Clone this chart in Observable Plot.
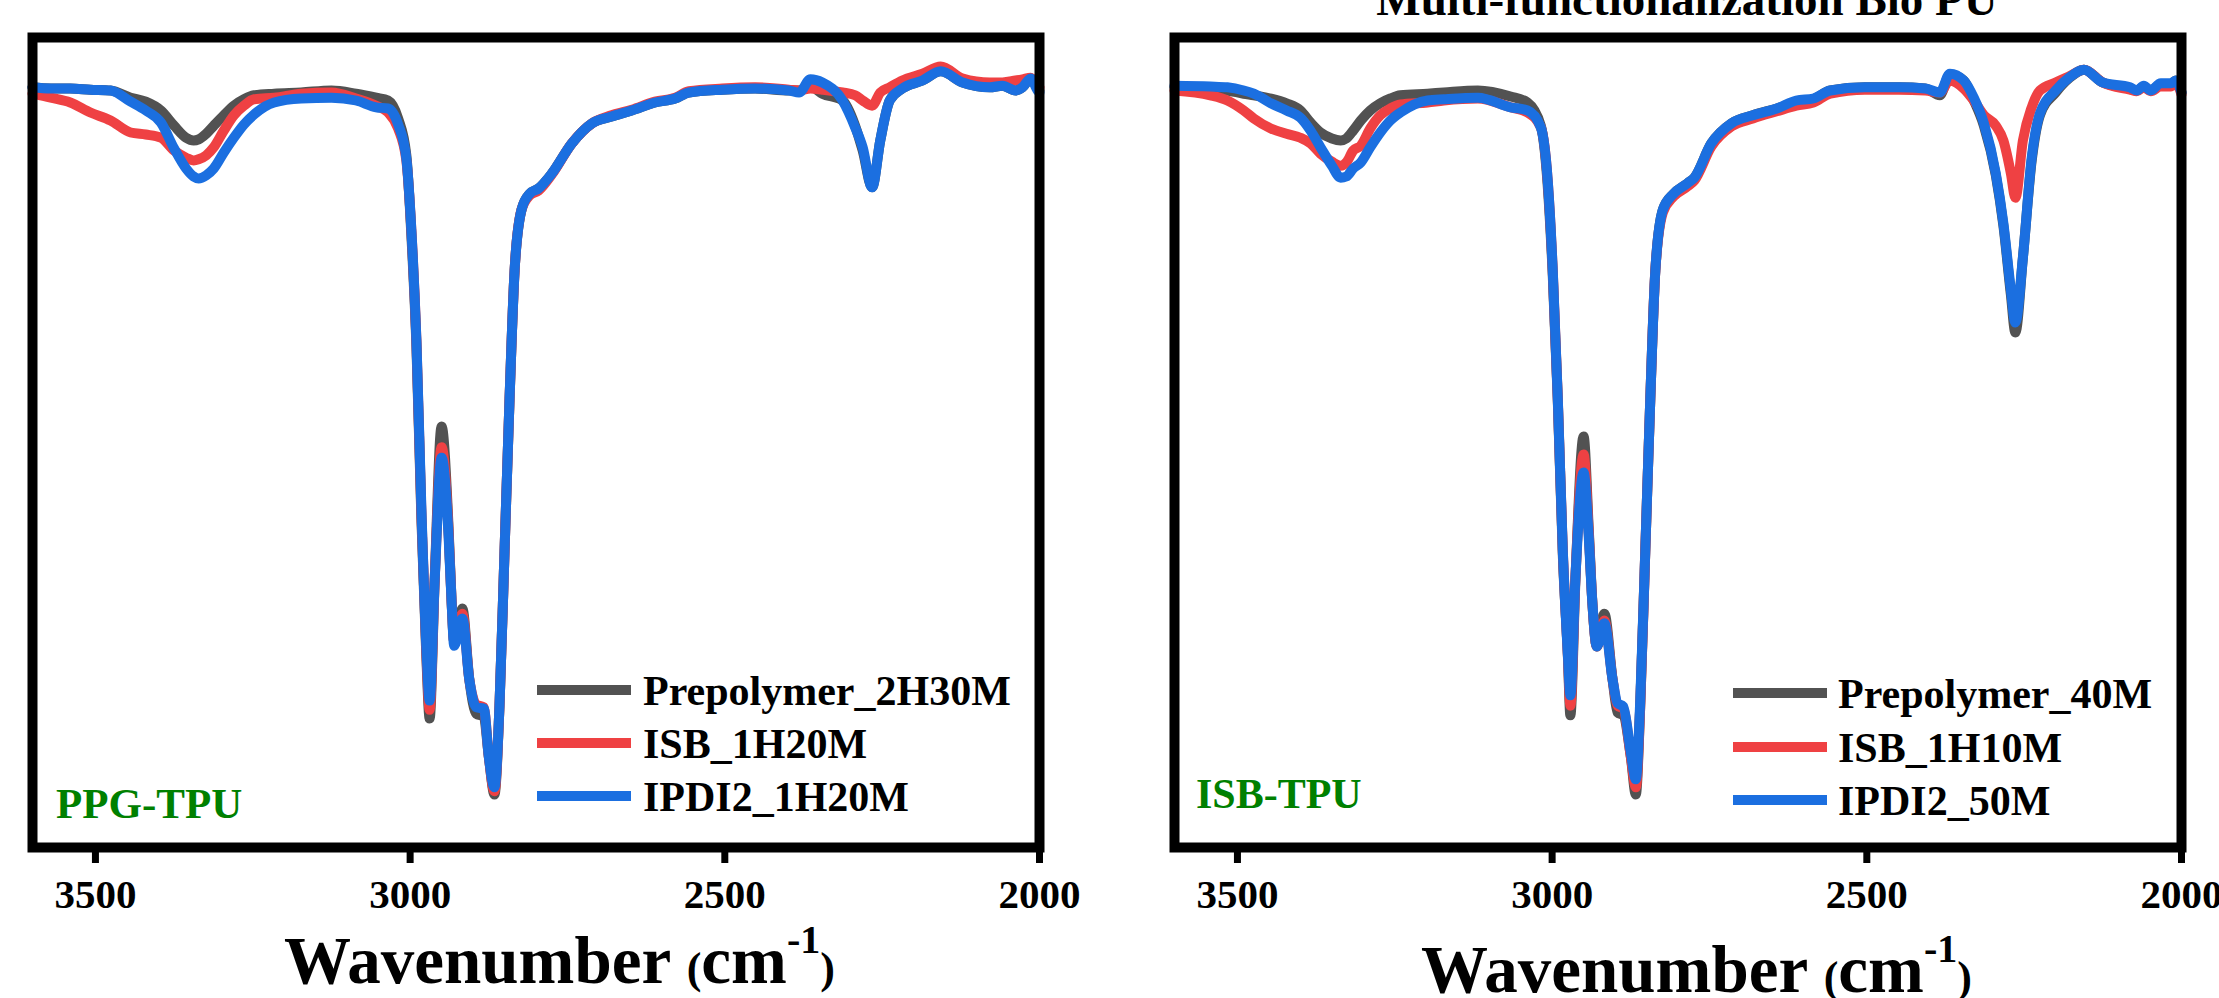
<!DOCTYPE html>
<html>
<head>
<meta charset="utf-8">
<script src="https://cdn.jsdelivr.net/npm/d3@7"></script>
<script src="https://cdn.jsdelivr.net/npm/@observablehq/plot@0.6"></script>
<style>
  html, body { margin: 0; padding: 0; background: #fff; }
  #root { position: relative; width: 2219px; height: 998px; overflow: hidden;
          font-family: "Liberation Serif", "Times New Roman", serif; font-weight: bold; color: #000; }
  .abs { position: absolute; white-space: nowrap; }
  .sw { position: absolute; height: 10px; }
</style>
</head>
<body>
<div id="root"></div>
<script>
// ---------------- DATA ----------------
const TICKS = [3500, 3000, 2500, 2000];
const SERIES_PPG = ["Prepolymer_2H30M", "ISB_1H20M", "IPDI2_1H20M"];
const SERIES_ISB = ["Prepolymer_40M", "ISB_1H10M", "IPDI2_50M"];
const PANEL_LABELS = ["PPG-TPU", "ISB-TPU"];
const TITLE = "Multi-functionalization Bio PU";

// Panel 1 (PPG-TPU): wavenumber (cm-1) and transmittance (%, arbitrary)
const WN_PPG = [3600,3571,3540,3508,3476,3444,3420,3396,3375,3356,3344,3336,3324,3312,3296,3280,3264,3248,3216,3173,3125,3086,3054,3035,3019,3006,2998,2990,2982,2974,2969,2961,2950,2939,2934,2930,2917,2906,2895,2883,2875,2866,2858,2850,2842,2834,2823,2810,2796,2775,2743,2711,2680,2648,2611,2579,2557,2504,2452,2398,2382,2364,2345,2313,2293,2281,2266,2253,2238,2218,2186,2157,2122,2079,2059,2038,2027,2014,2003,2000];
const PPG_PRE = [94.4,94.25,94.25,94.1,94.0,93.1,92.6,91.5,89.6,88.1, 87.75,87.9,88.6,89.6,90.9,92.1,92.9,93.4,93.6,93.75, 94.0,93.6,93.1,92.75,90.5,85.9,75.9,62.1,40.25,22.75, 15.5,32.75,52.0,39.5,29.9,25.1,29.25,20.4,16.1,15.75, 10.75,6.0,17.1,36.4,55.5,71.5,79.1,81.1,81.75,83.6, 87.4,89.9,90.75,91.5,92.5,93.0,93.75,94.1,94.25,94.0, 94.0,94.5,93.6,92.75,89.6,86.5,81.9,87.75,92.75,94.25, 95.25,96.4,95.0,94.4,94.6,94.0,94.4,95.5,94.25,94.0];
const PPG_ISB = [93.6,93.1,92.5,91.25,90.25,88.75,88.5,88.1,86.5,85.6, 85.25,85.4,85.9,86.9,89.0,90.9,92.1,92.9,93.1,93.6, 93.75,93.0,92.1,91.25,89.25,85.25,76.5,62.75,40.9,23.4, 16.6,32.75,49.4,39.0,29.9,25.1,28.6,20.4,17.25,16.9, 10.75,6.4,17.1,36.4,55.5,71.5,79.1,80.9,81.5,83.5, 87.4,89.9,90.9,91.6,92.6,93.1,93.9,94.25,94.4,94.1, 94.0,94.25,94.1,93.75,93.4,92.75,92.1,93.75,94.4,95.25, 96.1,97.0,95.5,95.0,95.0,95.25,95.4,95.6,94.6,94.4];
const PPG_IPDI = [94.4,94.25,94.25,94.1,94.0,92.6,91.5,90.0,86.75,84.25, 83.25,83.0,83.4,84.25,86.25,88.1,89.75,91.0,92.5,93.0, 93.1,92.75,91.9,91.75,89.75,85.5,76.5,62.75,41.5,24.0, 17.75,32.75,48.1,38.4,29.9,24.6,28.0,20.4,16.9,16.75, 10.75,6.9,17.1,36.4,55.5,71.5,79.1,81.1,81.75,83.6, 87.4,89.9,90.75,91.5,92.5,93.0,93.75,94.1,94.25,94.0, 93.75,95.4,95.0,92.75,89.4,86.9,81.9,87.75,92.75,94.25, 95.25,96.4,95.0,94.4,94.6,94.0,94.4,95.5,94.0,93.75];

// Panel 2 (ISB-TPU)
const WN_ISB = [3600,3543,3516,3490,3474,3447,3422,3400,3384,3368,3350,3336,3327,3316,3304,3289,3273,3257,3241,3198,3172,3118,3066,3039,3018,3007,2999,2991,2983,2975,2971,2963,2950,2942,2936,2929,2917,2904,2896,2887,2875,2867,2860,2852,2844,2836,2824,2807,2785,2774,2747,2715,2681,2643,2612,2585,2558,2503,2449,2407,2384,2368,2346,2330,2314,2295,2283,2271,2264,2252,2238,2225,2200,2179,2155,2125,2082,2071,2060,2049,2033,2017,2009,2000];
const ISB_PRE = [94.4,94.25,94.0,93.6,93.4,93.0,92.4,91.5,90.0,88.75, 88.0,87.75,88.0,89.0,90.25,91.5,92.4,93.0,93.4,93.6, 93.75,94.0,93.25,92.5,89.6,82.1,70.9,55.25,35.9,23.4, 15.9,32.75,50.75,39.5,29.9,24.5,28.6,20.4,16.25,15.9, 10.75,6.0,17.1,36.4,55.5,71.5,79.1,81.1,82.4,83.1, 87.4,89.9,90.9,91.75,92.5,92.9,94.0,94.4,94.4,94.25, 93.4,96.0,95.25,92.75,89.6,83.4,77.1,68.4,63.75,73.1, 85.25,90.9,93.75,95.5,96.6,95.0,94.25,94.0,94.5,94.0, 94.75,94.75,95.25,93.75];
const ISB_ISB = [94.0,93.4,92.75,91.5,90.5,89.25,88.6,88.1,87.4,86.1, 85.1,84.6,85.0,86.5,87.1,89.25,90.9,91.75,92.25,92.5, 92.75,93.0,91.9,91.25,89.4,82.75,71.5,55.5,36.4,23.5, 17.1,33.1,48.5,39.0,29.9,24.5,27.75,20.4,17.1,16.75, 10.75,6.9,17.1,36.4,55.5,71.5,78.75,80.75,82.0,82.75, 87.0,89.5,90.5,91.4,92.1,92.5,93.6,94.1,94.1,94.0, 93.75,95.25,94.25,92.75,90.9,89.6,87.75,83.6,80.6,87.75, 91.9,94.0,95.0,95.75,96.6,95.0,94.1,93.9,94.4,93.9, 94.5,94.5,95.0,93.5];
const ISB_IPDI = [94.6,94.5,94.4,94.0,93.6,92.4,91.5,90.6,89.0,86.9, 84.6,83.1,83.25,84.25,85.0,86.9,88.75,90.25,91.25,92.75, 92.9,93.1,91.9,91.5,89.4,82.75,71.5,55.5,36.4,23.5, 18.4,33.1,46.25,38.4,29.9,24.5,27.4,20.4,17.4,17.0, 11.25,7.9,17.75,36.4,55.5,71.5,79.1,81.1,82.4,83.1, 87.4,89.9,90.9,91.75,92.75,93.0,94.0,94.4,94.4,94.25, 93.75,96.1,95.25,93.1,89.9,83.6,77.4,69.0,65.0,73.1, 85.6,91.1,94.0,95.6,96.6,95.0,94.4,94.0,94.6,94.0, 94.9,94.9,95.25,93.75];

// ---------------- STYLE ----------------
const COLORS = ["#525252", "#ef4143", "#1b6fe0"];
const LABEL_GREEN = "#008000";

function table(wn, vals, name) {
  return wn.map((w, i) => ({ wn: w, t: vals[i], series: name }));
}

function panel(wn, seriesVals, names, opts) {
  const marks = seriesVals.map((vals, k) =>
    Plot.line(table(wn, vals, names[k]), {
      x: "wn", y: "t", stroke: COLORS[k], strokeWidth: 10,
      curve: "monotone-x", strokeLinejoin: "round", strokeLinecap: "round"
    })
  );
  return Plot.plot({
    width: opts.width, height: 998,
    marginLeft: opts.ml, marginRight: opts.mr, marginTop: 37, marginBottom: 151,
    style: { fontFamily: "'Liberation Serif', 'Times New Roman', serif", fontWeight: "bold",
             fontSize: "41px", color: "#000", background: "transparent", overflow: "visible" },
    x: { domain: [3600, 2000], label: null },
    y: { domain: [-0.625, 100.625], axis: null },
    marks: [
      ...marks,
      Plot.axisX({ ticks: TICKS, tickFormat: "d", tickSize: 16, tickPadding: 15,
                   strokeWidth: 7, fontSize: 41, fontWeight: "bold", label: null }),
      Plot.frame({ stroke: "#000", strokeWidth: 10 })
    ]
  });
}

const root = document.getElementById("root");

function place(el, left, top) {
  const d = document.createElement("div");
  d.className = "abs";
  d.style.left = left + "px"; d.style.top = top + "px";
  d.appendChild(el);
  root.appendChild(d);
  return d;
}

const p1 = panel(WN_PPG, [PPG_PRE, PPG_ISB, PPG_IPDI], SERIES_PPG, { width: 1100, ml: 32, mr: 61 });
place(p1, 0, 0);
const p2 = panel(WN_ISB, [ISB_PRE, ISB_ISB, ISB_IPDI], SERIES_ISB, { width: 1109, ml: 64, mr: 38 });
place(p2, 1110, 0);

// text with baseline placement (Liberation Serif: baseline ≈ top + 0.8375*size when line-height = size)
function text(str, x, baseline, size, color, extraStyle) {
  const d = document.createElement("div");
  d.className = "abs";
  d.textContent = str;
  d.style.left = x + "px";
  d.style.top = (baseline - 0.8375 * size) + "px";
  d.style.fontSize = size + "px";
  d.style.lineHeight = size + "px";
  d.style.color = color || "#000";
  if (extraStyle) Object.assign(d.style, extraStyle);
  root.appendChild(d);
  return d;
}

// Title (partially cut off at the top)
text(TITLE, 1187, 15, 47, "#000", { width: "1000px", textAlign: "center" });

// Legends
function legend(names, swX, textX, centers) {
  names.forEach((n, k) => {
    const s = document.createElement("div");
    s.className = "sw";
    s.style.left = swX + "px"; s.style.top = (centers[k] - 5) + "px";
    s.style.width = "94px"; s.style.background = COLORS[k];
    root.appendChild(s);
    text(n, textX, centers[k] + 15, 42, "#000");
  });
}
legend(SERIES_PPG, 537, 643, [690, 743, 796]);
legend(SERIES_ISB, 1733, 1838, [693, 747, 800]);

// Panel labels
text(PANEL_LABELS[0], 56, 818, 43, LABEL_GREEN);
text(PANEL_LABELS[1], 1196, 808, 42, LABEL_GREEN);

// Axis titles: Wavenumber (cm-1)
function axisTitle(x, baseline) {
  const size = 67;
  const d = document.createElement("div");
  d.className = "abs";
  d.style.left = x + "px";
  d.style.top = (baseline - 0.8375 * size) + "px";
  d.style.fontSize = size + "px";
  d.style.lineHeight = size + "px";
  d.innerHTML = 'Wavenumber <span style="font-size:44px;line-height:0">(</span>cm' +
    '<span style="font-size:40px;line-height:0;vertical-align:30px">-1</span>' +
    '<span style="font-size:44px;line-height:0">)</span>';
  root.appendChild(d);
}
axisTitle(284, 983);
axisTitle(1421, 992);
</script>
</body>
</html>
